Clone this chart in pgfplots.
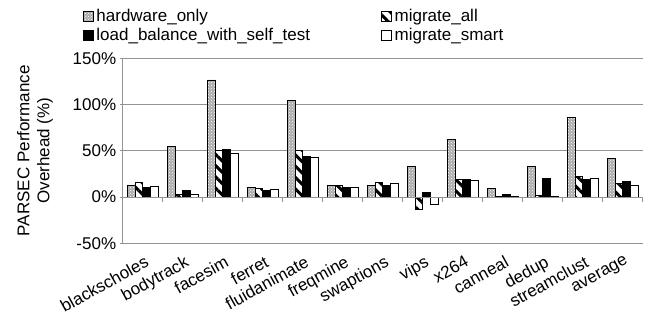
\documentclass[border=0pt]{standalone}
\usepackage{fontspec}
\setmainfont{Liberation Sans}
\usepackage{pgfplots}
\usepackage{pgfplotstable}
\pgfplotsset{compat=1.18}
\usetikzlibrary{patterns,patterns.meta}
\pgfplotstableread{
x hw ma lb ms
0 12.6 16.2 10.8 11.9
1 55 2.9 7.2 2.5
2 126.6 50.4 51.5 46.8
3 10.5 9.7 7.2 8.3
4 104.3 50.4 44.2 43.2
5 12.6 12.6 10.5 10.5
6 12.6 15.5 12.6 14.4
7 33.4 -13.3 4.7 -8.2
8 62.2 19 19.4 17.6
9 9.7 0.5 2.5 0.5
10 33.4 1.5 20.5 0.5
11 86.3 22.7 19.4 20.5
12 42 14.4 16.9 13
}\data
\newcommand{\bigf}{\fontsize{17pt}{20pt}\selectfont}
\pgfplotsset{
  mylegend/.style={legend image code/.code={\draw[##1, draw=black, line width=0.6pt] (0pt,-4.5pt) rectangle (10pt,5.5pt);}},
}
\begin{document}
\begin{tikzpicture}
\begin{axis}[
  scale only axis, width=520pt, height=185pt,
  xmin=-0.5, xmax=12.5, ymin=-50, ymax=150,
  ybar=0pt, bar width=7.7pt,
  axis y line*=left, axis x line*=bottom,
  x axis line style={draw=none},
  y axis line style={gray!85, line width=0.8pt},
  xtick=data,
  xticklabels={blackscholes,bodytrack,facesim,ferret,fluidanimate,freqmine,swaptions,vips,x264,canneal,dedup,streamclust,average},
  xtick style={draw=none},
  xticklabel style={font=\bigf, rotate=29, anchor=north east, inner sep=0pt, xshift=-3pt, yshift=-8pt},
  ytick={-50,0,50,100,150},
  /pgf/number format/assume math mode=true,
  yticklabel={\pgfmathprintnumber{\tick}\%},
  yticklabel style={font=\bigf},
  ytick style={gray!85, line width=0.8pt},
  major tick length=3pt,
  tick align=outside,
  ymajorgrids, grid style={gray!85, line width=0.8pt},
  ylabel={PARSEC Performance\\Overhead (\%)},
  ylabel style={font=\bigf, align=center, yshift=13pt},
  legend columns=2,
  legend cell align=left,
  legend style={font=\bigf, at={(-0.077,1.275)}, anchor=north west, draw=none, fill=none, inner sep=0pt, row sep=1pt,
    /tikz/every even column/.append style={column sep=69pt},
    /tikz/every odd column/.append style={column sep=1pt}},
]
\addplot[draw=black, line width=0.6pt, fill=gray!65, postaction={pattern=crosshatch dots, pattern color=white}, mylegend] table[x=x,y=hw]{\data};
\addlegendentry{hardware\_only}
\addplot[draw=black, line width=0.6pt, fill=white, postaction={pattern={Lines[angle=-45, distance=8pt, line width=3pt]}, pattern color=black}, mylegend] table[x=x,y=ma]{\data};
\addlegendentry{migrate\_all}
\addplot[draw=black, line width=0.6pt, fill=black, mylegend] table[x=x,y=lb]{\data};
\addlegendentry{load\_balance\_with\_self\_test}
\addplot[draw=black, line width=0.6pt, fill=white, mylegend] table[x=x,y=ms]{\data};
\addlegendentry{migrate\_smart}
\end{axis}
\begin{axis}[
  scale only axis, width=520pt, height=185pt,
  xmin=-0.5, xmax=12.5, ymin=-50, ymax=150,
  axis x line=middle, axis y line=none,
  x axis line style={-, gray!85, line width=0.8pt},
  xtick={-0.5,0.5,...,12.5}, xticklabels={},
  xtick style={gray!85, line width=0.8pt},
  major tick length=5pt, tick align=outside,
]
\end{axis}
\pgfresetboundingbox
\path (-122.7pt,-68.7pt) rectangle (528.3pt,243.3pt);
\end{tikzpicture}
\end{document}
